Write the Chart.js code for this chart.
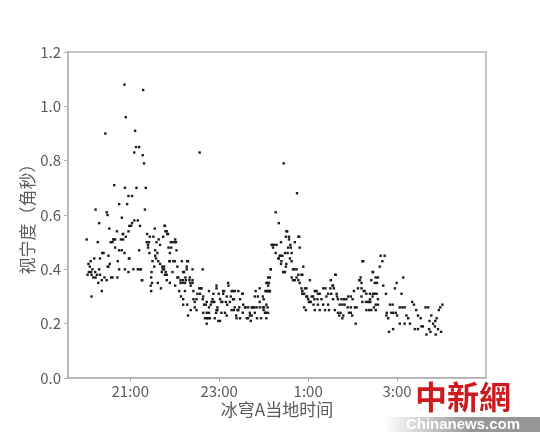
<!DOCTYPE html>
<html>
<head>
<meta charset="utf-8">
<script src="https://cdn.jsdelivr.net/npm/chart.js@4.4.0/dist/chart.umd.min.js"></script>
<style>
html,body{margin:0;padding:0;background:#fff;}
#wrap{width:540px;height:432px;position:relative;}
</style>
</head>
<body>
<div id="wrap"><canvas id="c" width="540" height="432"></canvas></div>
<script>
// x = local time in hours (24+ means after midnight), y = seeing in arcsec
const tickHours = [21, 23, 25, 27];
const tickLabels = ["21:00", "23:00", "1:00", "3:00"];
const yTitle = "视宁度（角秒）";
const xTitle = "冰穹A当地时间";

const evening = [
[20.02,0.51],[20.06,0.42],[20.09,0.41],[20.15,0.40],[20.12,0.39],[20.07,0.39],[20.04,0.38],[20.13,0.38],[20.17,0.37],[20.21,0.39],
[20.22,0.37],[20.25,0.38],[20.30,0.40],[20.32,0.38],[20.36,0.36],[20.42,0.37],[20.47,0.36],[20.51,0.41],[20.57,0.37],[20.60,0.37],
[20.71,0.37],[20.75,0.40],[20.88,0.40],[20.96,0.39],[20.13,0.30],[20.36,0.32],[20.22,0.62],[20.47,0.61],[20.49,0.60],[20.81,0.59],
[20.30,0.57],[20.53,0.55],[20.70,0.54],[20.84,0.53],[20.27,0.50],[20.56,0.50],[20.60,0.50],[20.63,0.51],[20.66,0.51],[20.79,0.51],
[20.84,0.51],[20.37,0.46],[20.75,0.47],[20.81,0.47],[20.87,0.46],[20.51,0.45],[20.32,0.44],[20.72,0.43],[20.98,0.44],[20.49,0.41],
[20.44,0.90],[20.64,0.71],[20.88,0.70],[20.96,0.67],[20.75,0.64],[20.93,0.64],[20.87,1.08],[20.90,0.96],[20.40,0.46],[20.62,0.51],
[20.83,0.53],[20.90,0.52],[20.97,0.44],[20.11,0.43],[20.19,0.44],[20.28,0.35],[20.66,0.48],[20.54,0.42]
];
const peak = [
[21.14,0.70],[21.35,0.70],[21.04,0.67],[21.33,0.62],[21.17,0.58],[21.09,0.58],[21.04,0.57],[21.02,0.56],[20.98,0.56],[20.96,0.54],
[21.22,0.56],[21.38,0.53],[21.29,1.06],[21.11,0.91],[21.13,0.85],[21.20,0.85],[21.09,0.83],[21.28,0.82],[21.31,0.79],[21.37,0.50],
[21.42,0.50],[21.40,0.49],[21.20,0.47],[21.07,0.40],[21.17,0.40],[21.22,0.40],[21.26,0.36],[21.47,0.37],[21.48,0.39],[21.47,0.32],
[21.24,0.40],[21.27,0.36],[21.43,0.46],[21.44,0.52],[21.40,0.48],[21.46,0.34],[21.49,0.35]
];
const lateEvening = [
[21.55,0.55],[21.77,0.56],[21.79,0.54],[21.83,0.53],[21.52,0.52],[21.59,0.50],[21.64,0.51],[21.67,0.49],[21.56,0.47],[21.61,0.46],
[21.56,0.45],[21.63,0.43],[21.67,0.42],[21.78,0.56],[21.82,0.54],[21.85,0.53],[21.74,0.52],[21.91,0.50],[22.01,0.51],[22.00,0.50],
[21.86,0.48],[21.89,0.46],[21.88,0.43],[21.97,0.43],[21.76,0.41],[21.73,0.40],[21.80,0.39],[21.82,0.38],[21.82,0.36],[21.71,0.39],
[21.54,0.41],[21.72,0.41],[21.76,0.40],[21.78,0.38],[21.89,0.35],[21.95,0.50],[22.03,0.50],[21.92,0.48],[22.04,0.47],[22.00,0.43],
[21.89,0.43],[21.95,0.39],[21.58,0.44],[21.50,0.43],[21.62,0.35],[21.69,0.33]
];
const midnight = [
[22.16,0.43],[22.28,0.43],[22.06,0.41],[22.27,0.41],[22.40,0.40],[22.63,0.40],[22.21,0.39],[22.08,0.37],[22.13,0.35],[22.18,0.35],
[22.23,0.35],[22.33,0.36],[22.40,0.36],[22.36,0.34],[22.01,0.34],[22.10,0.32],[22.23,0.32],[22.55,0.33],[22.60,0.33],[22.42,0.32],
[22.77,0.32],[22.94,0.34],[23.09,0.32],[23.20,0.35],[23.35,0.32],[23.43,0.32],[23.52,0.31],[23.91,0.33],[24.14,0.32],[22.51,0.31],
[22.64,0.30],[22.87,0.31],[23.26,0.30],[23.80,0.30],[23.98,0.30],[22.42,0.29],[22.49,0.29],[22.72,0.28],[22.83,0.28],[22.87,0.28],
[23.02,0.29],[23.05,0.28],[23.15,0.28],[23.24,0.28],[23.31,0.29],[22.19,0.27],[23.76,0.26],[23.84,0.26],[23.91,0.26],[24.01,0.26],
[22.36,0.25],[22.49,0.25],[22.94,0.25],[23.28,0.25],[23.33,0.25],[23.58,0.26],[23.65,0.26],[23.43,0.25],[22.64,0.24],[22.77,0.24],
[23.05,0.24],[23.13,0.24],[23.69,0.23],[23.73,0.23],[22.30,0.23],[22.68,0.22],[22.73,0.22],[22.79,0.22],[22.90,0.22],[22.98,0.21],
[23.02,0.21],[23.17,0.23],[23.39,0.22],[23.47,0.22],[23.62,0.22],[23.65,0.22],[23.71,0.21],[24.06,0.22],[22.72,0.20],[24.00,0.25],
[23.85,0.22],[22.06,0.37],[22.13,0.36],[22.18,0.36],[22.25,0.36],[22.24,0.37],[22.19,0.39],[22.30,0.43],[22.27,0.40],[22.34,0.37],
[22.35,0.35],[22.40,0.35],[22.14,0.30],[22.19,0.29],[22.28,0.27],[22.45,0.28],[22.45,0.26],[22.59,0.33],[22.57,0.31],[22.63,0.29],
[22.66,0.27],[22.70,0.27],[22.72,0.24],[22.75,0.22],[22.77,0.26],[22.81,0.27],[22.85,0.29],[22.89,0.28],[22.93,0.24],[22.96,0.25],
[22.96,0.26],[22.94,0.33],[22.99,0.31],[23.07,0.28],[23.09,0.31],[23.11,0.32],[23.17,0.30],[23.21,0.34],[23.18,0.27],[23.28,0.32],
[23.31,0.32],[23.33,0.29],[23.35,0.26],[23.38,0.23],[23.41,0.25],[23.45,0.26],[23.47,0.29],[23.53,0.31],[23.54,0.27],[23.53,0.24],
[23.59,0.26],[23.69,0.24],[23.73,0.26],[23.75,0.26],[23.79,0.26],[23.80,0.24],[23.82,0.32],[23.87,0.30],[23.91,0.28],[23.94,0.22],
[23.98,0.26],[24.03,0.24],[24.07,0.32],[24.10,0.34],[24.11,0.32],[24.12,0.35],[24.16,0.40],[24.14,0.37],[24.10,0.24],[22.56,0.83]
];
const afterOne = [
[24.27,0.61],[24.34,0.57],[24.45,0.79],[24.75,0.68],[24.51,0.54],[24.57,0.52],[24.78,0.52],[24.18,0.49],[24.24,0.49],[24.29,0.49],
[24.39,0.50],[24.70,0.50],[24.55,0.48],[24.61,0.48],[24.81,0.48],[24.27,0.46],[24.36,0.45],[24.34,0.44],[24.48,0.46],[24.54,0.46],
[24.59,0.44],[24.63,0.43],[24.40,0.43],[24.39,0.42],[24.51,0.42],[24.69,0.40],[24.74,0.40],[24.44,0.39],[24.48,0.39],[24.89,0.41],
[24.16,0.40],[24.10,0.37],[24.06,0.35],[24.14,0.32],[24.04,0.32],[24.09,0.26],[24.05,0.24],[24.74,0.37],[24.66,0.36],[24.78,0.36],
[24.81,0.35],[24.85,0.38],[25.04,0.36],[24.93,0.33],[24.96,0.33],[24.87,0.31],[24.91,0.31],[24.98,0.30],[25.15,0.32],[25.19,0.32],
[25.08,0.30],[25.14,0.29],[25.02,0.28],[25.06,0.28],[25.12,0.27],[24.91,0.26],[25.22,0.31],[25.26,0.31],[25.21,0.29],[25.34,0.33],
[25.39,0.33],[25.41,0.30],[25.45,0.31],[25.34,0.27],[25.38,0.25],[25.51,0.36],[25.56,0.34],[25.58,0.33],[25.61,0.38],[25.52,0.31],
[25.56,0.29],[25.64,0.31],[25.67,0.29],[25.47,0.25],[25.60,0.25],[25.71,0.27],[25.77,0.27],[25.82,0.27],[25.75,0.29],[25.81,0.29],
[25.86,0.29],[25.90,0.30],[25.96,0.30],[26.03,0.32],[26.12,0.33],[26.20,0.33],[26.24,0.43],[26.16,0.36],[25.73,0.24],[25.79,0.23],
[25.96,0.24],[25.99,0.23],[26.05,0.26],[26.09,0.26],[25.96,0.26],[25.89,0.26],[26.07,0.20],[25.67,0.24],[25.26,0.25],[25.15,0.25],
[26.20,0.30],[26.27,0.32],[24.20,0.49],[24.21,0.48],[24.38,0.45],[24.42,0.45],[24.50,0.41],[24.45,0.39],[24.33,0.44],[24.57,0.51],
[24.60,0.49],[24.80,0.52],[24.53,0.54],[24.50,0.52],[24.63,0.46],[24.66,0.40],[24.63,0.37],[24.70,0.36],[24.78,0.38],[24.87,0.38],
[24.85,0.33],[24.87,0.32],[24.96,0.30],[25.00,0.29],[25.11,0.30],[25.17,0.32],[25.04,0.28],[24.95,0.25],[25.30,0.29],[25.22,0.27],
[25.45,0.27],[25.50,0.33],[25.55,0.34],[25.62,0.38],[25.65,0.30],[25.70,0.23],[25.77,0.22],[26.00,0.29],[25.92,0.24],[26.15,0.36],
[26.18,0.37],[24.12,0.32],[24.00,0.29],[24.06,0.27],[24.08,0.35],[24.07,0.32]
];
const predawn = [
[26.63,0.45],[26.72,0.45],[26.67,0.43],[26.61,0.41],[26.45,0.39],[27.14,0.37],[26.52,0.37],[26.57,0.37],[26.99,0.35],[26.95,0.33],
[26.42,0.36],[26.50,0.35],[26.55,0.35],[26.20,0.35],[26.69,0.34],[26.25,0.32],[26.31,0.31],[26.50,0.31],[26.54,0.31],[26.75,0.31],
[27.10,0.31],[26.39,0.29],[26.45,0.30],[26.57,0.29],[26.22,0.28],[26.30,0.28],[26.35,0.28],[26.40,0.28],[26.52,0.27],[26.57,0.27],
[26.84,0.27],[26.90,0.27],[27.34,0.28],[27.38,0.27],[27.06,0.26],[27.12,0.26],[27.17,0.26],[27.64,0.26],[27.70,0.26],[28.02,0.27],
[27.97,0.26],[27.94,0.25],[26.31,0.25],[26.37,0.25],[26.42,0.25],[27.43,0.25],[26.77,0.24],[26.87,0.24],[26.91,0.24],[26.76,0.23],
[26.80,0.22],[26.97,0.24],[27.00,0.23],[27.21,0.23],[27.25,0.22],[27.47,0.23],[27.53,0.22],[27.77,0.23],[27.73,0.21],[27.89,0.22],
[27.86,0.21],[27.06,0.20],[27.17,0.20],[27.29,0.20],[27.55,0.19],[27.58,0.19],[27.81,0.20],[27.85,0.19],[26.91,0.18],[26.82,0.17],
[27.40,0.18],[27.47,0.18],[27.72,0.18],[27.75,0.17],[27.92,0.18],[27.99,0.17],[27.66,0.16],[27.87,0.16],[26.48,0.26],[26.52,0.25],
[26.46,0.39],[26.39,0.31],[26.46,0.31],[26.22,0.43],[26.37,0.28]
];

const allPoints = [].concat(evening, peak, lateEvening, midnight, afterOne, predawn)
  .map(p => ({x: p[0], y: p[1]}));

const frameColor = '#b4b4b4';
const textColor = '#5a5a5a';
const cjk = "'Noto Sans CJK SC', 'DejaVu Sans', sans-serif";

const framePlugin = {
  id: 'frame',
  afterDraw(chart) {
    const {ctx, chartArea: a} = chart;
    ctx.save();
    ctx.strokeStyle = frameColor;
    ctx.lineWidth = 1.5;
    ctx.strokeRect(a.left, a.top, a.right - a.left, a.bottom - a.top);
    // watermark
    const g = ctx.createLinearGradient(385, 0, 470, 0);
    g.addColorStop(0, 'rgba(150,150,150,0)');
    g.addColorStop(1, 'rgba(150,150,150,1)');
    ctx.fillStyle = g;
    ctx.fillRect(385, 417, 155, 15);
    ctx.fillStyle = '#ffffff';
    ctx.font = "bold 15px 'Liberation Sans Narrow', 'Liberation Sans', sans-serif";
    ctx.textAlign = 'center';
    ctx.textBaseline = 'middle';
    ctx.fillText('Chinanews.com', 463, 425);
    ctx.fillStyle = '#cc1a1f';
    ctx.font = "bold 32px 'Noto Sans CJK TC', 'Noto Sans CJK SC', sans-serif";
    ctx.fillText('中新網', 463, 397);
    ctx.restore();
  }
};

new Chart(document.getElementById('c'), {
  type: 'scatter',
  data: {
    datasets: [{
      data: allPoints,
      backgroundColor: '#1c1c1c',
      borderColor: '#1c1c1c',
      borderWidth: 0,
      pointStyle: 'rect',
      pointRadius: 1.7,
      pointHoverRadius: 1.7
    }]
  },
  options: {
    responsive: false,
    animation: false,
    devicePixelRatio: 1,
    layout: {padding: {left: 0, right: 54, top: 52, bottom: 0}},
    plugins: {legend: {display: false}, tooltip: {enabled: false}},
    scales: {
      x: {
        type: 'linear',
        min: 19.6,
        max: 29.0,
        afterBuildTicks(scale) { scale.ticks = tickHours.map(v => ({value: v})); },
        afterFit(scale) { scale.height = 54; },
        ticks: {
          autoSkip: false,
          maxRotation: 0,
          padding: 0,
          color: textColor,
          font: {family: cjk, size: 15},
          callback: (v) => { const i = tickHours.indexOf(v); return i >= 0 ? tickLabels[i] : ''; }
        },
        grid: {display: true, drawOnChartArea: false, drawTicks: true, tickLength: 4, color: frameColor},
        border: {display: true, color: frameColor, width: 1.5},
        title: {display: true, text: xTitle, color: textColor, font: {family: cjk, size: 17}, padding: {top: 0, bottom: 12}}
      },
      y: {
        min: 0,
        max: 1.2,
        afterFit(scale) { scale.width = 68; },
        ticks: {
          stepSize: 0.2,
          padding: 3,
          color: textColor,
          font: {family: cjk, size: 15},
          callback: (v) => Number(v).toFixed(1)
        },
        grid: {display: true, drawOnChartArea: false, drawTicks: true, tickLength: 4, color: frameColor},
        border: {display: true, color: frameColor, width: 1.5},
        title: {display: true, text: yTitle, color: textColor, font: {family: cjk, size: 17}, padding: {top: 17, bottom: 0}}
      }
    }
  },
  plugins: [framePlugin]
});
</script>
</body>
</html>
